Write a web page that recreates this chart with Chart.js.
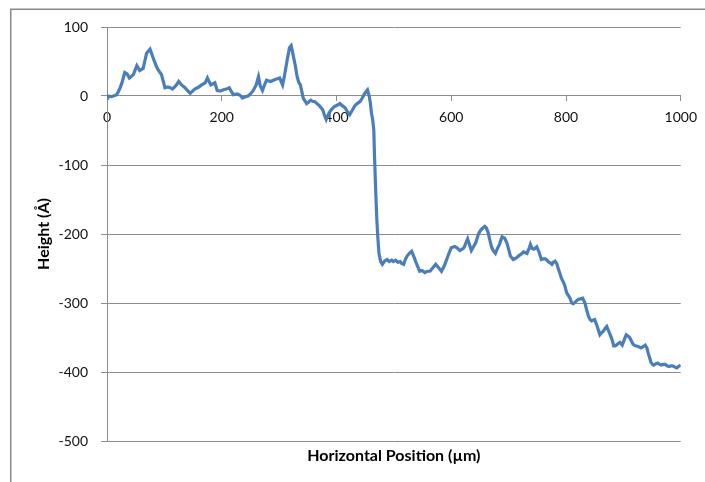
<!DOCTYPE html>
<html>
<head>
<meta charset="utf-8">
<script src="https://cdn.jsdelivr.net/npm/chart.js@4"></script>
<style>
  html, body { margin: 0; padding: 0; background: #ffffff; }
  #wrap { width: 705px; height: 482px; position: relative; }
</style>
</head>
<body>
<div id="wrap"><canvas id="c" width="705" height="482"></canvas></div>
<script>
// Surface profile: horizontal position (µm) and measured height (Å)
const positions = [
  0, 3, 8, 17, 22, 26, 31, 35, 39, 46, 52, 57, 63, 69, 75, 81, 86, 89, 95, 101,
  106, 110, 114, 120, 125, 130, 136, 140, 145, 153, 160, 165, 171, 175, 179, 181, 188, 192, 197, 203,
  208, 213, 220, 227, 232, 236, 241, 246, 250, 255, 260, 264, 267, 271, 275, 278, 285, 293, 301, 306,
  309, 314, 318, 321, 325, 328, 331, 334, 337, 340, 342, 348, 351, 355, 359, 362, 366, 370, 376, 379,
  382, 385, 389, 393, 397, 402, 406, 410, 415, 419, 423, 428, 432, 436, 441, 445, 448, 451, 454, 457,
  459, 461, 463, 465, 466, 468, 470, 472, 474, 477, 480, 484, 488, 492, 496, 499, 503, 507, 511, 514,
  517, 520, 523, 527, 531, 535, 538, 542, 545, 549, 554, 558, 563, 568, 573, 578, 583, 588, 592, 596,
  600, 606, 610, 615, 619, 622, 626, 628.5, 632, 635, 639, 643, 647, 650, 654, 658.5, 661, 664, 667, 670,
  673, 677, 680, 684, 688.6, 693, 697, 700, 703, 708, 713, 717, 722, 726, 732, 736, 738, 741, 744, 749,
  753, 757, 761, 764, 767, 770, 773, 775.5, 778, 781, 784, 786, 789, 792, 795, 798, 801, 804, 807, 810,
  813, 817, 821, 825, 829, 833, 836, 839, 842, 844.4, 847, 850, 854, 859, 862, 865, 868, 871, 874, 878,
  881, 883, 886, 889, 892, 894, 898, 902, 905, 908, 911, 914, 917, 921, 926, 931, 935, 938, 941, 943,
  946, 948, 951, 953, 957, 960, 963, 966, 970, 973, 976, 980, 983, 987, 990, 993, 996, 1000
];
const heights = [
  -5, 0, -1, 2, 10, 19, 34, 32, 26, 31, 44, 37, 40, 62, 68, 54, 43, 38, 31, 12,
  13, 12, 10, 15, 21, 16, 12, 8, 4, 10, 13, 16, 19, 26, 19, 16, 19, 8, 7, 9,
  10, 12, 2, 3, 1, -3, -1, 0, 3, 8, 16, 28, 15, 8, 17, 23, 21, 24, 26, 16,
  28, 52, 70, 73, 57, 45, 30, 20, 16, 5, -3, -11, -9, -6, -8, -8, -11, -14, -20, -28,
  -34, -28, -22, -18, -15, -13, -11, -14, -17, -23, -27, -20, -14, -11, -8, -3, 2, 6, 9, 0,
  -10, -25, -34, -49, -80, -130, -174, -205, -228, -240, -244, -239, -237, -240, -238, -240, -238, -241, -240, -243,
  -244, -237, -232, -228, -225, -233, -240, -248, -254, -253, -256, -254, -254, -249, -244, -249, -254, -246, -237, -228,
  -220, -218, -220, -224, -222, -220, -212, -207, -216, -224, -218, -212, -201, -196, -192, -189, -191, -197, -208, -218,
  -224, -228, -222, -215, -204, -206, -213, -222, -232, -237, -235, -232, -229, -226, -228, -220, -215, -221, -222, -218.5,
  -226, -237, -236, -236, -238, -241, -242, -244, -241, -239.5, -243, -249, -256, -264, -269, -275, -285, -289, -293, -300,
  -301, -298, -295, -294, -293, -300, -310, -319, -324, -326, -325, -324, -333, -346, -343, -341, -337, -334, -340, -348,
  -355, -362, -362, -360, -358, -357, -361, -352, -346, -348, -350, -355, -360, -362, -363, -365, -363, -361, -365, -372,
  -380, -386, -389, -390, -388, -387, -389, -390, -389, -389, -391, -392, -391, -391.5, -393, -394, -392, -390
];
// Axis ranges and tick spacing
const xTicks = [0, 200, 400, 600, 800, 1000];
const yTicks = [-500, -400, -300, -200, -100, 0, 100];
const xTitle = 'Horizontal Position (µm)';
const yTitle = 'Height (Å)';

const points = positions.map((p, i) => ({ x: p, y: heights[i] }));

const FONT = 'Lato, "Open Sans", sans-serif';
const GRID = '#8c8c8c';

// Outer frame of the chart object and the bottom axis title
const decorations = {
  id: 'decorations',
  beforeDraw(chart) {
    const ctx = chart.ctx;
    ctx.save();
    ctx.strokeStyle = '#8a8a8a';
    ctx.lineWidth = 1.5;
    ctx.beginPath();
    ctx.moveTo(10.75, chart.height);
    ctx.lineTo(10.75, 9.25);
    ctx.lineTo(chart.width, 9.25);
    ctx.stroke();
    ctx.restore();
  },
  afterDraw(chart) {
    const ctx = chart.ctx;
    const area = chart.chartArea;
    ctx.save();
    ctx.fillStyle = '#000000';
    ctx.font = 'bold 16px ' + FONT;
    ctx.textAlign = 'center';
    ctx.textBaseline = 'middle';
    ctx.fillText(xTitle, (area.left + area.right) / 2, 456);
    ctx.restore();
  }
};

new Chart(document.getElementById('c'), {
  type: 'line',
  data: {
    datasets: [{
      data: points,
      borderColor: '#4a7ebb',
      borderWidth: 3.2,
      pointRadius: 0,
      tension: 0,
      fill: false
    }]
  },
  options: {
    responsive: false,
    animation: false,
    events: [],
    layout: { padding: { left: 0, top: 27, right: 24, bottom: 41 } },
    plugins: { legend: { display: false }, tooltip: { enabled: false } },
    scales: {
      x: {
        type: 'linear',
        position: { y: 0 },
        min: xTicks[0],
        max: xTicks[xTicks.length - 1],
        afterBuildTicks: (scale) => { scale.ticks = xTicks.map(v => ({ value: v })); },
        ticks: {
          callback: (v) => String(v),
          color: '#111111',
          font: { family: FONT, size: 14 },
          padding: 8,
          maxRotation: 0,
          autoSkip: false
        },
        grid: { drawOnChartArea: false, drawTicks: true, tickLength: 5, color: GRID },
        border: { display: true, color: GRID, width: 1 }
      },
      y: {
        type: 'linear',
        position: 'left',
        min: yTicks[0],
        max: yTicks[yTicks.length - 1],
        afterBuildTicks: (scale) => { scale.ticks = yTicks.map(v => ({ value: v })); },
        afterFit: (scale) => { scale.width = 107; },
        ticks: {
          callback: (v) => String(v),
          color: '#111111',
          font: { family: FONT, size: 14 },
          padding: 13
        },
        grid: { color: GRID, tickLength: 6, drawTicks: true },
        border: { display: true, color: GRID, width: 1 },
        title: {
          display: true,
          text: yTitle,
          color: '#000000',
          font: { family: FONT, size: 16, weight: 'bold' },
          padding: { top: 34, bottom: 0 }
        }
      }
    }
  },
  plugins: [decorations]
});
</script>
</body>
</html>
